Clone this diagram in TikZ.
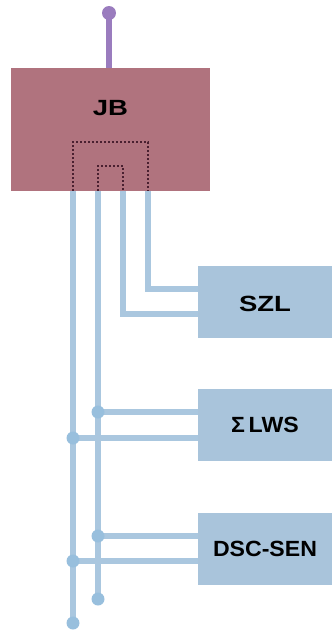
\documentclass[tikz,border=0pt]{standalone}
\usepackage{fontspec}
\setmainfont{Liberation Sans}
\newfontfamily\widefont[FakeStretch=1.25]{Liberation Sans}
\newfontfamily\tagfont[FakeStretch=1.05]{Liberation Sans}
\usetikzlibrary{fit}
\definecolor{jbred}{HTML}{B0737E}
\definecolor{boxblue}{HTML}{A9C4DB}
\definecolor{wireblue}{HTML}{AAC7DF}
\definecolor{tapblue}{HTML}{98BFDD}
\definecolor{pinpurple}{HTML}{9A7CBE}
\definecolor{dotline}{HTML}{4A2030}

\begin{document}
\begin{tikzpicture}[x=1pt,y=-1pt,
    wire/.style={draw=wireblue, line width=6pt},
    widelabel/.style={font=\widefont\fontsize{22}{26}\selectfont\bfseries},
    taglabel/.style={font=\tagfont\fontsize{22}{26}\selectfont\bfseries},
    unit/.style={fill=boxblue, inner sep=0pt},
    tap/.style={fill=tapblue, circle, inner sep=0pt, minimum size=13pt},
    inner/.style={draw=dotline, line width=1.6pt, dash pattern=on 1.6pt off 2.4pt}]
    \useasboundingbox (0,0) rectangle (332,630);

    \node[fill=jbred, inner sep=0pt, fit={(11,68) (210,191)}, label={[widelabel, yshift=21pt]center:{JB}}] (jb) {};

    \node[unit, fit={(198,266) (332,338)}, label={[widelabel, yshift=-2pt]center:{SZL}}] (szl) {};
    \node[unit, fit={(198,389) (332,461)}, label={[taglabel]center:{Σ\,LWS}}] (lws) {};
    \node[unit, fit={(198,513) (332,585)}, label={[taglabel]center:{DSC-SEN}}] (dsc) {};

    % supply pin
    \coordinate (pin) at (109,13);
    \draw[pinpurple, line width=6pt] (pin) -- (pin |- jb.north);
    \node[circle, fill=pinpurple, inner sep=0pt, minimum size=14pt] (pinhead) at (pin) {};

    % wire exits at the bottom of JB
    \coordinate (w1) at (73,191);
    \coordinate (w2) at (98,191);
    \coordinate (w3) at (123,191);
    \coordinate (w4) at (148,191);

    % loops inside JB
    \draw[inner] (w1) |- (148,142) -- (w4);
    \draw[inner] (w2) |- (123,166) -- (w3);

    % SZL
    \draw[wire] (w4) |- ([yshift=13pt]szl.west);
    \draw[wire] (w3) |- ([yshift=-12pt]szl.west);

    % bus lines
    \coordinate (e2) at (98,599);
    \coordinate (e1) at (73,623);
    \draw[wire] (w2) -- (e2);
    \draw[wire] (w1) -- (e1);
    \node[tap] (d2) at (e2) {};
    \node[tap] (d1) at (e1) {};

    % taps to LWS and DSC-SEN
    \coordinate (l2) at ([yshift=13pt]lws.west);
    \coordinate (l1) at ([yshift=-13pt]lws.west);
    \coordinate (s2) at ([yshift=13pt]dsc.west);
    \coordinate (s1) at ([yshift=-12pt]dsc.west);
    \draw[wire] (l2 -| w2) -- (l2);
    \draw[wire] (l1 -| w1) -- (l1);
    \draw[wire] (s2 -| w2) -- (s2);
    \draw[wire] (s1 -| w1) -- (s1);
    \node[tap] (tl2) at (l2 -| w2) {};
    \node[tap] (tl1) at (l1 -| w1) {};
    \node[tap] (ts2) at (s2 -| w2) {};
    \node[tap] (ts1) at (s1 -| w1) {};
\end{tikzpicture}
\end{document}
